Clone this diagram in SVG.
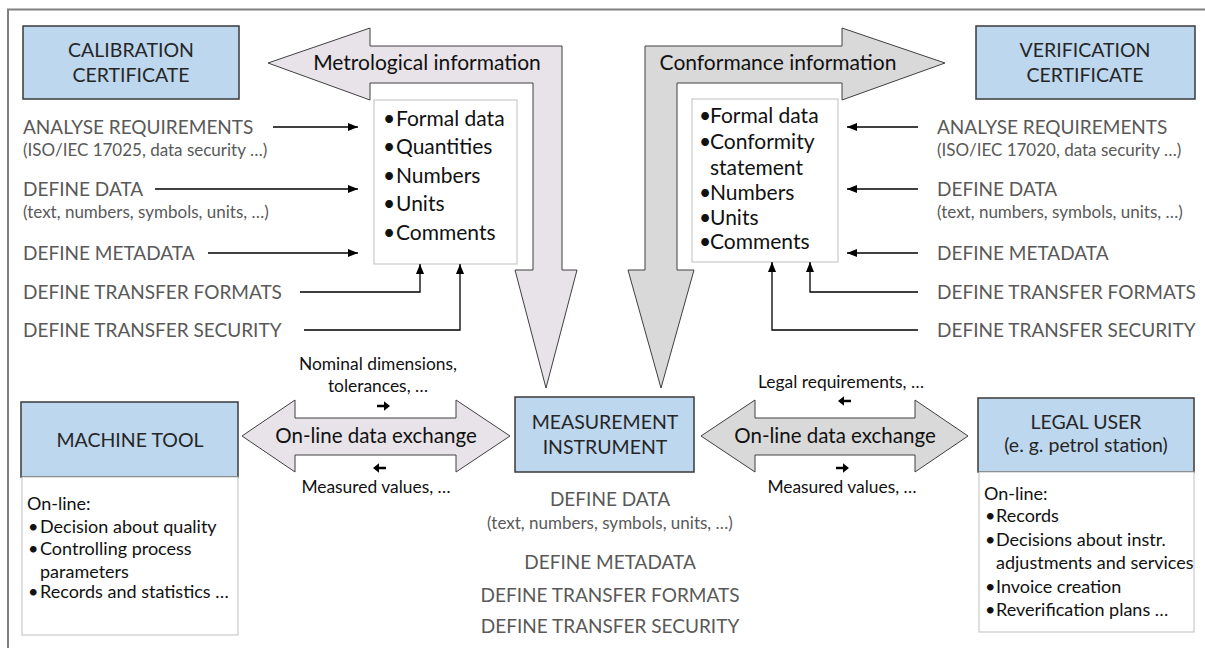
<svg xmlns="http://www.w3.org/2000/svg" width="1205" height="648" viewBox="0 0 1205 648">
<style>
text{font-family:Lato,"Liberation Sans",sans-serif}
.g{fill:#595959;font-size:19px}
.gs{fill:#595959;font-size:17px}
.t{fill:#262626;font-size:19.5px}
.li{fill:#111;font-size:21px}
.ex{fill:#111;font-size:20.5px}
.sl{fill:#111;font-size:17.4px}
.bl{fill:#111;font-size:18px}
.box{fill:#BDD7EE;stroke:#3a3a3a;stroke-width:1.5}
.list{fill:#fff;stroke:#bfbfbf;stroke-width:1}
.big{stroke:#404040;stroke-width:1}
.conn{stroke:#000;stroke-width:1.3;fill:none;marker-end:url(#ah)}
</style>
<defs>
<marker id="ah" viewBox="0 0 10 10" refX="10" refY="5" markerWidth="10" markerHeight="10" markerUnits="userSpaceOnUse" orient="auto"><path d="M0,1 L10,5 L0,9 Z" fill="#000"/></marker>
<path id="sa" d="M-6,-1.3 H1 V-4.8 L7,0 L1,4.8 V1.3 H-6 Z" fill="#000"/>
</defs>
<rect width="1205" height="648" fill="#fff"/>
<path d="M8,648 V9.5 H1205" fill="none" stroke="#808080" stroke-width="2"/>

<g id="metrological-arrow">
<path class="big" fill="#E7E3E8" d="M268,63 L370,28 L370,46 L562,46 L562,270 L577,270 L546,388 L515,270 L533,270 L533,83 L370,83 L370,100 Z"/>
<text class="li" x="427" y="70" text-anchor="middle">Metrological information</text>
</g>
<g id="conformance-arrow">
<path class="big" fill="#D9D9D9" d="M945,63 L842,28 L842,46 L645,46 L645,270 L628,270 L661,388 L694,270 L677,270 L677,83 L842,83 L842,100 Z"/>
<text class="li" x="778" y="70" text-anchor="middle">Conformance information</text>
</g>

<g id="calibration-certificate">
<rect class="box" x="23" y="26" width="216" height="73"/>
<text class="t" x="131" y="57" text-anchor="middle">CALIBRATION</text>
<text class="t" x="131" y="82" text-anchor="middle">CERTIFICATE</text>
</g>
<g id="verification-certificate">
<rect class="box" x="976" y="26" width="219" height="73"/>
<text class="t" x="1085" y="57" text-anchor="middle">VERIFICATION</text>
<text class="t" x="1085" y="82" text-anchor="middle">CERTIFICATE</text>
</g>

<g id="metrological-list">
<rect class="list" x="374" y="100" width="143" height="164"/>
<text class="li" y="126"><tspan x="383">•</tspan><tspan x="396">Formal data</tspan></text>
<text class="li" y="154"><tspan x="383">•</tspan><tspan x="396">Quantities</tspan></text>
<text class="li" y="183"><tspan x="383">•</tspan><tspan x="396">Numbers</tspan></text>
<text class="li" y="211"><tspan x="383">•</tspan><tspan x="396">Units</tspan></text>
<text class="li" y="240"><tspan x="383">•</tspan><tspan x="396">Comments</tspan></text>
</g>
<g id="conformance-list">
<rect class="list" x="692" y="99" width="146" height="163"/>
<text class="li" y="123"><tspan x="699">•</tspan><tspan x="710">Formal data</tspan></text>
<text class="li" y="149"><tspan x="699">•</tspan><tspan x="710">Conformity</tspan></text>
<text class="li" x="710" y="175">statement</text>
<text class="li" y="200"><tspan x="699">•</tspan><tspan x="710">Numbers</tspan></text>
<text class="li" y="225"><tspan x="699">•</tspan><tspan x="710">Units</tspan></text>
<text class="li" y="249"><tspan x="699">•</tspan><tspan x="710">Comments</tspan></text>
</g>

<g id="left-tasks">
<text class="g" x="23" y="134">ANALYSE REQUIREMENTS</text>
<text class="gs" x="23" y="156">(ISO/IEC 17025, data security …)</text>
<text class="g" x="23" y="196">DEFINE DATA</text>
<text class="gs" x="23" y="218">(text, numbers, symbols, units, …)</text>
<text class="g" x="23" y="260">DEFINE METADATA</text>
<text class="g" x="23" y="299">DEFINE TRANSFER FORMATS</text>
<text class="g" x="23" y="337">DEFINE TRANSFER SECURITY</text>
</g>
<g id="right-tasks">
<text class="g" x="937" y="134">ANALYSE REQUIREMENTS</text>
<text class="gs" x="937" y="156">(ISO/IEC 17020, data security …)</text>
<text class="g" x="937" y="196">DEFINE DATA</text>
<text class="gs" x="937" y="218">(text, numbers, symbols, units, …)</text>
<text class="g" x="937" y="260">DEFINE METADATA</text>
<text class="g" x="937" y="299">DEFINE TRANSFER FORMATS</text>
<text class="g" x="937" y="337">DEFINE TRANSFER SECURITY</text>
</g>

<g id="connectors">
<path class="conn" d="M273,127 H358"/>
<path class="conn" d="M155,189 H358"/>
<path class="conn" d="M208,253 H358"/>
<path class="conn" d="M300,292 H420 V264"/>
<path class="conn" d="M304,330 H460 V264"/>
<path class="conn" d="M918,127 H847"/>
<path class="conn" d="M918,189 H847"/>
<path class="conn" d="M918,253 H847"/>
<path class="conn" d="M918,292 H810 V262"/>
<path class="conn" d="M918,330 H772 V262"/>
</g>

<g id="exchange-left">
<path class="big" fill="#E7E3E8" d="M242,436 L295,400 L295,418 L456,418 L456,400 L510,436 L456,472 L456,455 L295,455 L295,472 Z"/>
<text class="ex" x="376" y="443" text-anchor="middle">On-line data exchange</text>
<text class="sl" x="378" y="370" text-anchor="middle">Nominal dimensions,</text>
<text class="sl" x="378" y="392" text-anchor="middle">tolerances, …</text>
<use href="#sa" transform="translate(383,406)"/>
<use href="#sa" transform="translate(380,468) scale(-1,1)"/>
<text class="sl" x="376" y="493" text-anchor="middle">Measured values, …</text>
</g>
<g id="exchange-right">
<path class="big" fill="#D9D9D9" d="M701,436 L755,400 L755,418 L915,418 L915,400 L968,436 L915,472 L915,455 L755,455 L755,472 Z"/>
<text class="ex" x="835" y="443" text-anchor="middle">On-line data exchange</text>
<text class="sl" x="841" y="388" text-anchor="middle">Legal requirements, …</text>
<use href="#sa" transform="translate(845,401) scale(-1,1)"/>
<use href="#sa" transform="translate(842,468)"/>
<text class="sl" x="842" y="493" text-anchor="middle">Measured values, …</text>
</g>

<g id="machine-tool">
<rect class="box" x="21" y="402" width="217" height="75"/>
<text class="t" x="130" y="447" text-anchor="middle">MACHINE TOOL</text>
<rect class="list" x="22" y="477" width="216" height="158"/>
<text class="bl" x="27" y="510">On-line:</text>
<text class="bl" y="533"><tspan x="28">•</tspan><tspan x="40">Decision about quality</tspan></text>
<text class="bl" y="555"><tspan x="28">•</tspan><tspan x="40">Controlling process</tspan></text>
<text class="bl" x="40" y="578">parameters</text>
<text class="bl" y="598"><tspan x="28">•</tspan><tspan x="40">Records and statistics …</tspan></text>
</g>

<g id="measurement-instrument">
<rect class="box" x="515" y="397" width="179" height="75"/>
<text class="t" x="605" y="429" text-anchor="middle">MEASUREMENT</text>
<text class="t" x="605" y="454" text-anchor="middle">INSTRUMENT</text>
<text class="g" x="610" y="506" text-anchor="middle">DEFINE DATA</text>
<text class="gs" x="610" y="529" text-anchor="middle">(text, numbers, symbols, units, …)</text>
<text class="g" x="610" y="569" text-anchor="middle">DEFINE METADATA</text>
<text class="g" x="610" y="602" text-anchor="middle">DEFINE TRANSFER FORMATS</text>
<text class="g" x="610" y="633" text-anchor="middle">DEFINE TRANSFER SECURITY</text>
</g>

<g id="legal-user">
<rect class="box" x="978" y="398" width="216" height="74"/>
<text class="t" x="1086" y="429" text-anchor="middle">LEGAL USER</text>
<text class="t" x="1086" y="452" text-anchor="middle">(e. g. petrol station)</text>
<rect class="list" x="979" y="472" width="215" height="160"/>
<text class="bl" x="984" y="500">On-line:</text>
<text class="bl" y="522"><tspan x="985">•</tspan><tspan x="996">Records</tspan></text>
<text class="bl" y="546"><tspan x="985">•</tspan><tspan x="996">Decisions about instr.</tspan></text>
<text class="bl" x="996" y="569">adjustments and services</text>
<text class="bl" y="593"><tspan x="985">•</tspan><tspan x="996">Invoice creation</tspan></text>
<text class="bl" y="616"><tspan x="985">•</tspan><tspan x="996">Reverification plans …</tspan></text>
</g>
</svg>
